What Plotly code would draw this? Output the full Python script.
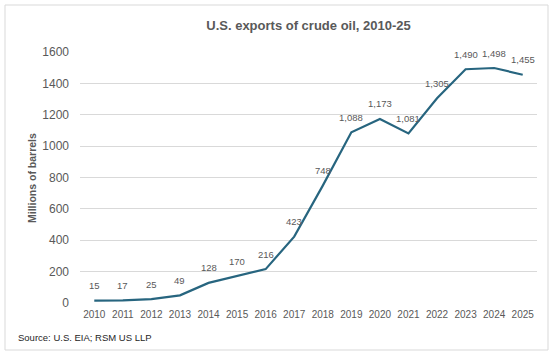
import plotly.graph_objects as go

years = [str(y) for y in range(2010, 2026)]
exports = [15, 17, 25, 49, 128, 170, 216, 423, 748, 1088, 1173, 1081, 1305, 1490, 1498, 1455]
labels = [f"{v:,}" for v in exports]

W, H = 560, 358
L, R, T, B = 80, 23, 52, 55
pw, ph = W - L - R, H - T - B

def px(x):
    return (x - L) / pw

def py(y):
    return (H - B - y) / ph

fig = go.Figure()
fig.add_trace(go.Scatter(
    x=years, y=exports, mode="lines",
    line=dict(color="#27657F", width=2.2),
    cliponaxis=False, hoverinfo="x+y",
))

annotations = [dict(x=i, y=v, xref="x", yref="y", text=t, showarrow=False, yshift=15,
                    xanchor="center", yanchor="middle",
                    font=dict(size=9.5, color="#595959"))
               for i, (v, t) in enumerate(zip(exports, labels))]
annotations.append(dict(text="Source: U.S. EIA; RSM US LLP", xref="paper", yref="paper",
                        x=px(16), y=py(338), xanchor="left", yanchor="middle", showarrow=False,
                        font=dict(size=9.5, color="#262626")))
annotations.append(dict(text="<b>Millions of barrels</b>", xref="paper", yref="paper",
                        x=px(32), y=py(178), xanchor="center", yanchor="middle", showarrow=False,
                        textangle=-90, font=dict(size=10.5, color="#595959")))

fig.update_layout(
    width=W, height=H,
    margin=dict(l=L, r=R, t=T, b=B, autoexpand=False),
    paper_bgcolor="white", plot_bgcolor="white",
    font=dict(family="Liberation Sans, Arial, sans-serif", color="#595959"),
    title=dict(text="<b>U.S. exports of crude oil, 2010-25</b>", x=0.5, xanchor="center",
               xref="paper", y=1 - 25 / H, yanchor="middle", font=dict(size=13, color="#595959")),
    showlegend=False,
    xaxis=dict(type="category", range=[-0.5, 15.5], showgrid=False, showline=False,
               automargin=False, ticks="", ticklabelstandoff=4,
               tickfont=dict(size=10, color="#595959"), zeroline=False),
    yaxis=dict(range=[0, 1600], dtick=200, showgrid=True, gridcolor="#D9D9D9", gridwidth=1,
               automargin=False, zeroline=False, showline=False, ticks="", ticklabelstandoff=10,
               tickfont=dict(size=12, color="#595959")),
    shapes=[dict(type="rect", xref="paper", yref="paper",
                 x0=px(5), x1=px(548), y0=py(350), y1=py(5),
                 line=dict(color="#D9D9D9", width=1), fillcolor="rgba(0,0,0,0)", layer="below")],
    annotations=annotations,
)

fig.write_html("out.html", config={"displayModeBar": False},
               post_script="document.body.style.margin='0';document.body.style.overflow='hidden';")
